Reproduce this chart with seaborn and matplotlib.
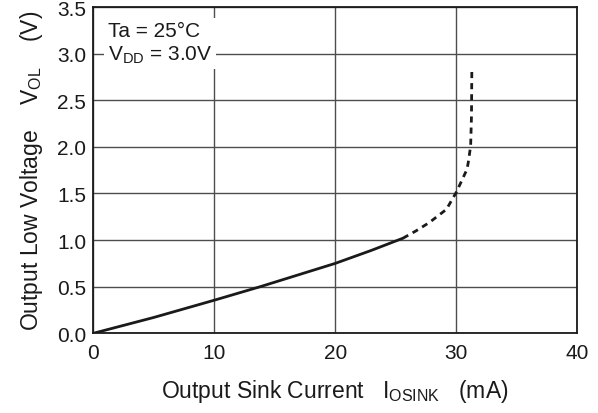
import matplotlib
matplotlib.use("Agg")
import matplotlib.pyplot as plt
import seaborn as sns

solid_x = [0, 5, 10, 13.8, 20, 23, 25.6]
solid_y = [0, 0.17, 0.355, 0.5, 0.75, 0.89, 1.02]
dash_x = [25.6, 26.7, 27.8, 29.2, 30.0, 30.4, 30.9, 31.0, 31.2, 31.27, 31.3]
dash_y = [1.02, 1.10, 1.19, 1.33, 1.51, 1.62, 1.76, 1.83, 2.01, 2.33, 2.85]

x_ticks = [0, 10, 20, 30, 40]
y_ticks = [0.0, 0.5, 1.0, 1.5, 2.0, 2.5, 3.0, 3.5]

sns.set_theme(style="white")
plt.rcParams["font.family"] = ["Liberation Sans", "DejaVu Sans"]
plt.rcParams["mathtext.fontset"] = "custom"
plt.rcParams["mathtext.rm"] = "Liberation Sans"
plt.rcParams["mathtext.it"] = "Liberation Sans"

fig = plt.figure(figsize=(5.98, 4.14), dpi=100)
ax = fig.add_axes([0.156, 0.1925, 0.809, 0.788])

sns.lineplot(x=solid_x, y=solid_y, ax=ax, color="#1a1a1a", linewidth=2.0, sort=False)
sns.lineplot(x=dash_x, y=dash_y, ax=ax, color="#1a1a1a", linewidth=2.0, sort=False,
             linestyle=(0, (2.2, 1.8)))

ax.set_xlim(0, 40)
ax.set_ylim(0, 3.5)
ax.set_xticks(x_ticks)
ax.set_yticks(y_ticks)
ax.set_xticklabels([str(v) for v in x_ticks])
ax.set_yticklabels([f"{v:.1f}" for v in y_ticks])
ax.tick_params(length=0, labelsize=15, colors="#1a1a1a")
ax.tick_params(axis="x", pad=7)
ax.tick_params(axis="y", pad=5)

ax.grid(True, color="#4d4d4d", linewidth=1.0)
ax.set_axisbelow(True)
for s in ax.spines.values():
    s.set_color("#1a1a1a")
    s.set_linewidth(1.3)

ax.set_xlabel(r"Output Sink Current   $\mathregular{I_{OSINK}}$   (mA)", fontsize=16.5,
              color="#1a1a1a", labelpad=11)
ax.set_ylabel(r"Output Low Voltage    $\mathregular{V_{OL}}$    (V)", fontsize=16.5,
              color="#1a1a1a", labelpad=9)

ax.text(1.2, 3.35, "Ta = 25°C\n" + r"$\mathregular{V_{DD}}$ = 3.0V", fontsize=15,
        color="#1a1a1a", va="top", ha="left", linespacing=1.2,
        bbox=dict(facecolor="white", edgecolor="none", pad=3), zorder=5)

fig.savefig("out.png", dpi=100)
